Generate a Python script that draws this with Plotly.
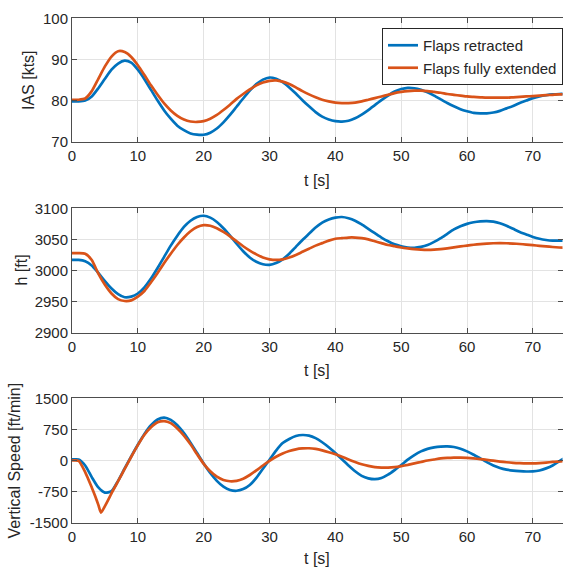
import plotly.graph_objects as go

# ---------------- data ----------------
t_s = list(range(0, 76))

ias_retracted = [79.8, 79.8, 80.0, 81.0, 83.0, 85.3, 87.5, 89.0, 89.7, 89.2,
                 87.5, 85.2, 82.6, 80.0, 77.6, 75.6, 73.9, 72.8, 72.0, 71.7,
                 71.7, 72.2, 73.2, 74.7, 76.5, 78.5, 80.5, 82.4, 84.0, 85.1,
                 85.6, 85.3, 84.5, 83.2, 81.7, 80.1, 78.6, 77.2, 76.1, 75.4,
                 75.0, 74.9, 75.1, 75.7, 76.6, 77.7, 78.9, 80.1, 81.2, 82.2,
                 82.8, 83.1, 83.0, 82.6, 82.0, 81.2, 80.3, 79.4, 78.6, 77.9,
                 77.4, 77.0, 76.9, 76.9, 77.1, 77.5, 78.1, 78.7, 79.4, 80.0,
                 80.6, 81.0, 81.3, 81.5, 81.6, 81.6]
ias_extended = [80.2, 80.2, 80.5, 82.3, 85.3, 88.3, 90.7, 92.0, 91.8, 90.6,
                88.6, 86.2, 83.7, 81.4, 79.3, 77.6, 76.3, 75.4, 74.9, 74.8,
                75.0, 75.6, 76.5, 77.7, 79.0, 80.4, 81.6, 82.7, 83.7, 84.4,
                84.8, 84.9, 84.6, 84.0, 83.2, 82.3, 81.5, 80.8, 80.2, 79.8,
                79.5, 79.4, 79.4, 79.5, 79.8, 80.2, 80.6, 81.0, 81.4, 81.8,
                82.1, 82.3, 82.4, 82.4, 82.3, 82.1, 81.9, 81.6, 81.4, 81.2,
                81.0, 80.9, 80.8, 80.7, 80.7, 80.7, 80.7, 80.8, 80.9, 81.0,
                81.1, 81.2, 81.3, 81.4, 81.5, 81.5]

h_retracted = [3017, 3017, 3015, 3008, 2996, 2983, 2971, 2962, 2957, 2958,
               2963, 2973, 2987, 3004, 3022, 3040, 3056, 3070, 3080, 3086,
               3088, 3085, 3078, 3068, 3056, 3043, 3031, 3021, 3014, 3010,
               3009, 3012, 3018, 3027, 3038, 3049, 3059, 3069, 3077, 3082,
               3085, 3086, 3084, 3080, 3074, 3067, 3060, 3053, 3047, 3042,
               3039, 3037, 3036.5, 3038, 3041, 3046, 3052, 3059, 3066, 3071,
               3075, 3077.5, 3079, 3079.5, 3078.5, 3076, 3072, 3067, 3062, 3058,
               3054, 3051, 3049, 3048, 3048, 3048]
h_extended = [3028, 3028, 3027, 3017, 2995, 2977, 2963, 2954, 2951, 2952,
              2958, 2967, 2981, 2996, 3012, 3027, 3041, 3053, 3063, 3070,
              3073, 3072, 3068, 3062, 3055, 3047, 3039, 3032, 3026, 3021,
              3018, 3017, 3018, 3021, 3025, 3030, 3035, 3040, 3044, 3048,
              3051, 3052, 3053, 3053, 3052, 3050, 3047, 3044, 3041, 3039,
              3037, 3035.5, 3034.3, 3033.5, 3033.2, 3033.5, 3034.4, 3035.7, 3037.2, 3038.7,
              3040.1, 3041.4, 3042.5, 3043.3, 3043.8, 3044, 3043.8, 3043.3, 3042.6, 3041.7,
              3040.7, 3039.7, 3038.7, 3037.8, 3037, 3036.4]

vs_retracted = [25, 25, -120, -400, -650, -775, -740, -490, -190, 100,
                380, 640, 850, 990, 1035, 980, 850, 660, 430, 180,
                -70, -300, -490, -630, -710, -730, -690, -590, -420, -200,
                20, 240, 420, 520, 590, 615, 600, 540, 440, 320,
                180, 30, -120, -260, -370, -430, -450, -420, -340, -230,
                -110, 20, 130, 220, 280, 315, 335, 340, 325, 285,
                220, 140, 50, -40, -120, -180, -220, -245, -258, -265,
                -262, -240, -190, -120, -20, 70]

t_vs_ext = [0, 1, 2, 3, 3.5, 4, 4.4, 5, 5.5, 6] + list(range(7, 76))
vs_extended = [0, -10, -280, -650, -850, -1070, -1255, -1100, -950, -790,
               -500, -200, 90, 370, 620, 800, 920, 950, 900, 770,
               600, 390, 150, -80, -260, -390, -470, -500, -490, -440,
               -350, -240, -120, -10, 90, 170, 230, 270, 290, 295,
               280, 245, 200, 150, 90, 25, -35, -90, -130, -160,
               -172, -172, -160, -135, -105, -70, -35, 0, 25, 50,
               62, 68, 69, 62, 50, 35, 15, -5, -25, -42,
               -55, -63, -68, -68, -62, -50, -35, -20, -10]

x_ticks = [0, 10, 20, 30, 40, 50, 60, 70]
ias_ticks = [70, 80, 90, 100]
h_ticks = [2900, 2950, 3000, 3050, 3100]
vs_ticks = [-1500, -750, 0, 750, 1500]
vs_tick_text = ["-1500", "-750", "0", "750", "1500"]

series_names = ["Flaps retracted", "Flaps fully extended"]
colors = ["#0072BD", "#D95319"]

# ---------------- figure ----------------
W, H = 563, 570
FONT = "Liberation Sans, Arial, sans-serif"
TXT = "#262626"

fig = go.Figure()

def px_x(p):
    return p / W

def px_y(p):
    return 1 - p / H

x_dom = [px_x(72), px_x(562.5)]
panels = [(18.3, 141.7), (208.3, 332.7), (398.3, 522.7)]

data_sets = [
    ((t_s, ias_retracted), (t_s, ias_extended)),
    ((t_s, h_retracted), (t_s, h_extended)),
    ((t_s, vs_retracted), (t_vs_ext, vs_extended)),
]

for i, pair in enumerate(data_sets):
    xa = "x" if i == 0 else f"x{i+1}"
    ya = "y" if i == 0 else f"y{i+1}"
    for j, (tx, vy) in enumerate(pair):
        fig.add_trace(go.Scatter(
            x=tx, y=vy, mode="lines", name=series_names[j],
            line=dict(color=colors[j], width=2.7, shape="spline", smoothing=0.6),
            xaxis=xa, yaxis=ya, showlegend=(i == 0),
        ))

axis_common = dict(
    showline=True, linecolor="#4d4d4d", linewidth=1, mirror="ticks",
    ticks="inside", ticklen=5, tickcolor="#4d4d4d", tickwidth=1,
    showgrid=True, gridcolor="#e3e3e3", gridwidth=1, zeroline=False,
    tickfont=dict(family=FONT, size=15, color=TXT), automargin=False,
)

y_specs = [
    dict(range=[70, 100], tickvals=ias_ticks, ticktext=[str(v) for v in ias_ticks]),
    dict(range=[2900, 3100], tickvals=h_ticks, ticktext=[str(v) for v in h_ticks]),
    dict(range=[-1500, 1500], tickvals=vs_ticks, ticktext=vs_tick_text),
]

layout = dict(
    width=W, height=H, margin=dict(l=0, r=0, t=0, b=0),
    paper_bgcolor="white", plot_bgcolor="white",
    font=dict(family=FONT, size=15, color=TXT),
    showlegend=True,
    legend=dict(
        x=px_x(382), y=px_y(28), xanchor="left", yanchor="top",
        bgcolor="white", bordercolor="#262626", borderwidth=1,
        font=dict(family=FONT, size=15, color=TXT),
        tracegroupgap=0, itemwidth=30,
    ),
)

for i, (top, bot) in enumerate(panels):
    xk = "xaxis" if i == 0 else f"xaxis{i+1}"
    yk = "yaxis" if i == 0 else f"yaxis{i+1}"
    xa = "x" if i == 0 else f"x{i+1}"
    ya = "y" if i == 0 else f"y{i+1}"
    layout[xk] = dict(axis_common, domain=x_dom, range=[0, 74.5],
                      tickvals=x_ticks, ticktext=[str(v) for v in x_ticks],
                      anchor=ya)
    layout[yk] = dict(axis_common, domain=[px_y(bot), px_y(top)], anchor=xa,
                      **y_specs[i])

fig.update_layout(**layout)

# axis titles
x_titles_y = [180, 370, 558]
y_titles = [("IAS [kts]", 28), ("h [ft]", 21), ("Vertical Speed [ft/min]", 14)]
for i, (top, bot) in enumerate(panels):
    fig.add_annotation(text="t [s]", xref="paper", yref="paper",
                       x=px_x(317), y=px_y(x_titles_y[i]), showarrow=False,
                       xanchor="center", yanchor="middle",
                       font=dict(family=FONT, size=16, color=TXT))
    label, xc = y_titles[i]
    fig.add_annotation(text=label, xref="paper", yref="paper",
                       x=px_x(xc), y=px_y((top + bot) / 2), showarrow=False,
                       xanchor="center", yanchor="middle", textangle=-90,
                       font=dict(family=FONT, size=16, color=TXT))

fig.write_html(
    "out.html",
    config={"displayModeBar": False},
    post_script="document.body.style.margin='0px';document.body.style.overflow='hidden';",
)
